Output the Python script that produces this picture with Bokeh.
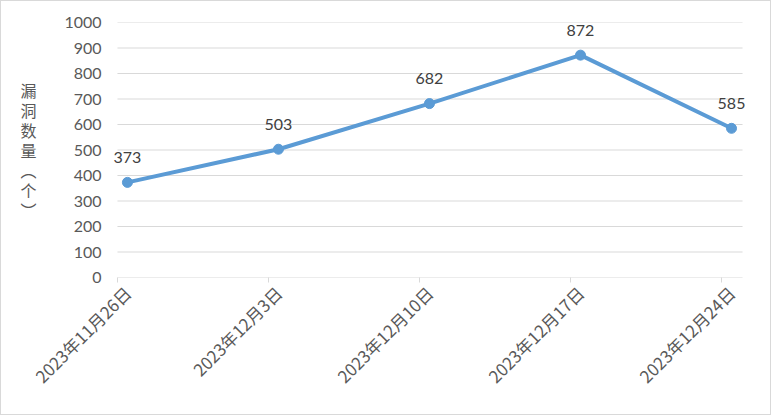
from bokeh.plotting import figure
from bokeh.layouts import row
from bokeh.models import ColumnDataSource, FixedTicker, Label, LabelSet, Range1d
from bokeh.core.properties import value
from bokeh.embed import file_html
from bokeh.resources import INLINE

categories = ["2023年11月26日", "2023年12月3日", "2023年12月10日", "2023年12月17日", "2023年12月24日"]
counts = [373, 503, 682, 872, 585]
y_ticks = [0, 100, 200, 300, 400, 500, 600, 700, 800, 900, 1000]
y_title = "漏\n洞\n数\n量\n︵\n个\n︶"

idx = list(range(len(categories)))
src = ColumnDataSource(dict(x=idx, y=counts, lbl=[str(v) for v in counts]))

# visible plotting area (index units) and a slightly wider frame so edge labels are not clipped
x_lo, x_hi = -0.066, len(categories) - 1 + 0.073
pad = 0.066

p = figure(frame_width=645, frame_height=255, min_border_left=106, min_border_right=18,
           min_border_top=21, min_border_bottom=137,
           x_range=Range1d(x_lo - pad, x_hi + pad), y_range=Range1d(0, 1000),
           output_backend="svg", toolbar_location=None)
p.outline_line_color = None
p.grid.visible = False

use_axis_title = "axis_label_orientation" in p.yaxis[0].properties()

# horizontal gridlines limited to the visible plotting area
p.segment(x0=[x_lo] * len(y_ticks), x1=[x_hi] * len(y_ticks), y0=y_ticks, y1=y_ticks,
          line_color="#d9d9d9", line_width=1)

p.line("x", "y", source=src, line_color="#5b9bd5", line_width=4, line_cap="round", line_join="round")
p.scatter("x", "y", source=src, size=10, fill_color="#5b9bd5", line_color="#5b9bd5")
p.add_layout(LabelSet(x="x", y="y", text="lbl", source=src, y_offset=25, text_align="center",
                      text_baseline="middle", text_font=value("Lato"), text_font_size="16px",
                      text_color="#404040"))

# y axis
p.yaxis.ticker = FixedTicker(ticks=y_ticks)
p.yaxis.axis_line_color = None
p.yaxis.major_tick_line_color = None
p.yaxis.major_tick_in = 0
p.yaxis.major_tick_out = 0
p.yaxis.minor_tick_line_color = None
p.yaxis.minor_tick_in = 0
p.yaxis.minor_tick_out = 0
p.yaxis.major_label_text_font = "Lato"
p.yaxis.major_label_text_font_size = "16px"
p.yaxis.major_label_text_color = "#595959"
p.yaxis.major_label_standoff = 6

# x axis (its line is the 0 gridline)
p.xaxis.ticker = FixedTicker(ticks=idx, minor_ticks=[i + x_lo for i in idx])
p.xaxis.major_label_overrides = {i: c for i, c in zip(idx, categories)}
p.xaxis.major_label_orientation = 0.785398
p.xaxis.axis_line_color = None
p.xaxis.major_tick_line_color = None
p.xaxis.minor_tick_line_color = "#d9d9d9"
p.xaxis.minor_tick_in = 0
p.xaxis.minor_tick_out = 5
p.xaxis.major_label_text_font = "Noto Sans CJK SC"
p.xaxis.major_label_text_font_size = "17px"
p.xaxis.major_label_text_color = "#595959"
p.xaxis.major_label_standoff = 6

if use_axis_title:
    p.yaxis.axis_label = y_title
    p.yaxis.axis_label_orientation = "horizontal"
    p.yaxis.axis_label_text_font = "Noto Sans CJK SC"
    p.yaxis.axis_label_text_font_size = "16px"
    p.yaxis.axis_label_text_font_style = "normal"
    p.yaxis.axis_label_text_color = "#595959"
    p.yaxis.axis_label_text_line_height = 0.84
    p.yaxis.axis_label_standoff = 25
    p.width = 769
    layout = p
else:
    # narrow panel holding the vertical y-axis title
    t = figure(width=60, height=413, min_border=0, x_range=Range1d(0, 1), y_range=Range1d(0, 1),
               output_backend="svg", toolbar_location=None)
    t.axis.visible = False
    t.grid.visible = False
    t.outline_line_color = None
    t.add_layout(Label(x=29, y=199, x_units="screen", y_units="screen", text=y_title,
                       text_font="Noto Sans CJK SC", text_font_size="16px", text_color="#595959",
                       text_align="center", text_baseline="top", text_line_height=0.84))
    p.min_border_left = 46
    layout = row(t, p, spacing=0)

layout.styles = {"border": "1px solid #d9d9d9"}

open("out.html", "w").write(file_html(layout, INLINE))
